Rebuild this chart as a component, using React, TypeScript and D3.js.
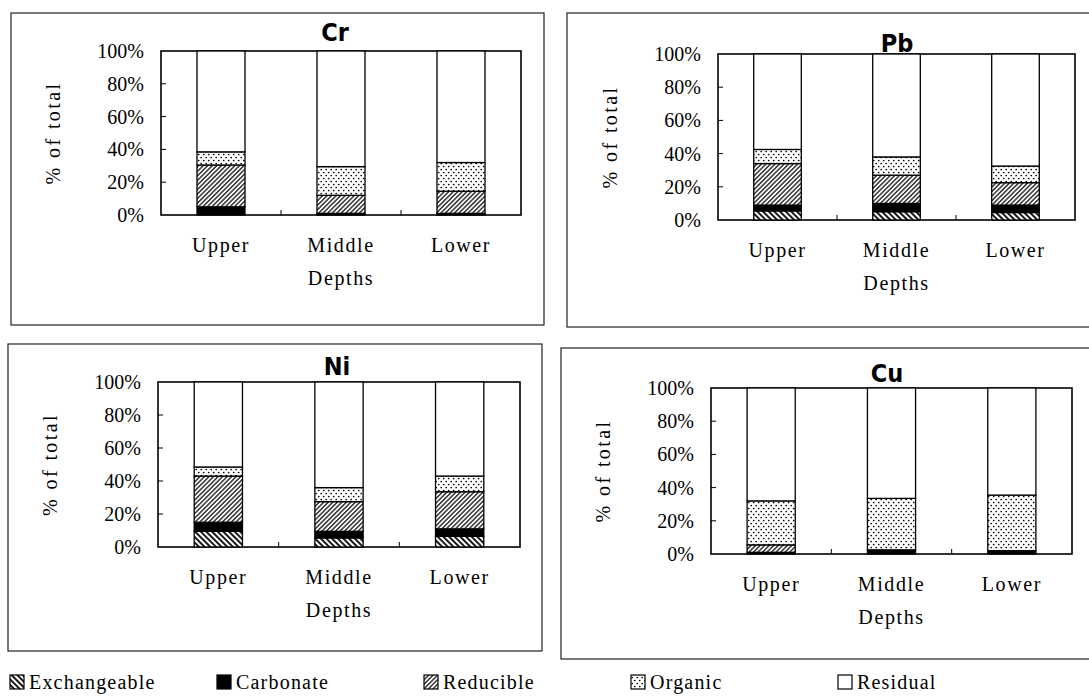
import React from 'react';
import * as d3 from 'd3';

const depths = ['Upper', 'Middle', 'Lower'];
const fractions = ['Exchangeable', 'Carbonate', 'Reducible', 'Organic', 'Residual'];
const yTicks = [0, 20, 40, 60, 80, 100];

// % of total for each depth: Exchangeable, Carbonate, Reducible, Organic (Residual is the rest)
const crValues = [[0, 5, 25.5, 8], [0, 1, 11, 17.5], [0, 1, 13.5, 17.5]];
const pbValues = [[5.5, 3.5, 25, 8.5], [5, 5, 17, 11], [4.5, 4.5, 13.5, 10]];
const niValues = [[9.5, 5.5, 28, 5.5], [5.5, 4, 18, 8.5], [6.5, 4.5, 22.5, 9.5]];
const cuValues = [[0, 1, 4.5, 26.5], [0, 2.5, 0, 31], [0, 2, 0, 33.5]];

const panels = [
  { title: 'Cr', values: crValues, frame: [11, 13, 533, 312], plot: [161, 51, 360, 164], titleX: 335, titleY: 41 },
  { title: 'Pb', values: pbValues, frame: [567, 13, 540, 314], plot: [718, 54, 357, 166], titleX: 897, titleY: 52 },
  { title: 'Ni', values: niValues, frame: [8, 344, 534, 307], plot: [158, 382, 362, 165], titleX: 337, titleY: 375 },
  { title: 'Cu', values: cuValues, frame: [561, 348, 540, 311], plot: [711, 388, 361, 166], titleX: 887, titleY: 382 },
];

const fills: Record<string, string> = {
  Exchangeable: 'url(#pat-exch)',
  Carbonate: '#000',
  Reducible: 'url(#pat-red)',
  Organic: 'url(#pat-org)',
  Residual: '#fff',
};

const serif = "'Liberation Serif', 'DejaVu Serif', serif";
const txt = { fontFamily: serif, fontSize: 20, letterSpacing: 1.6 };

function buildRows(values: number[][]) {
  return depths.map((depth, i) => {
    const row: any = { depth };
    fractions.slice(0, 4).forEach((f, j) => (row[f] = values[i][j]));
    row.Residual = 100 - d3.sum(values[i]);
    return row;
  });
}

function Panel({ p }: { p: any }) {
  const [fx, fy, fw, fh] = p.frame;
  const [px, py, pw, ph] = p.plot;
  const x = d3.scaleBand().domain(depths).range([px, px + pw]).paddingInner(0.6).paddingOuter(0.3);
  const y = d3.scaleLinear().domain([0, 100]).range([py + ph, py]);
  const series = d3.stack().keys(fractions)(buildRows(p.values));
  const step = x.step();
  const bw = x.bandwidth();

  return (
    <g>
      <rect x={fx} y={fy} width={fw} height={fh} fill="none" stroke="#222" strokeWidth={1.2} />
      <text x={p.titleX} y={p.titleY} textAnchor="middle" fontFamily="'DejaVu Sans Condensed', 'Liberation Sans Narrow', sans-serif" fontWeight="bold" fontSize={25}>{p.title}</text>
      <rect x={px} y={py} width={pw} height={ph} fill="none" stroke="#000" strokeWidth={1.6} />
      {series.map((s: any) => (
        <g key={s.key}>
          {s.map((d: any, i: number) => (
            d[1] - d[0] > 0 ? (
              <rect key={i} x={x(depths[i])} y={y(d[1])} width={bw} height={y(d[0]) - y(d[1])}
                fill={fills[s.key]} stroke="#000" strokeWidth={1.3} />
            ) : null
          ))}
        </g>
      ))}
      {yTicks.map(t => (
        <g key={t}>
          {t > 0 && t < 100 ? <line x1={px} x2={px + 5} y1={y(t)} y2={y(t)} stroke="#000" strokeWidth={1} /> : null}
          <text x={px - 17} y={y(t)} dy="0.35em" textAnchor="end" {...txt} letterSpacing={0}>{t}%</text>
        </g>
      ))}
      {depths.slice(0, -1).map(d => {
        const bx = (x(d) as number) + bw + (step - bw) / 2;
        return <line key={d} x1={bx} x2={bx} y1={py + ph} y2={py + ph - 5} stroke="#000" strokeWidth={1} />;
      })}
      {depths.map(d => (
        <text key={d} x={(x(d) as number) + bw / 2} y={py + ph + 37} textAnchor="middle" {...txt}>{d}</text>
      ))}
      <text x={(x('Middle') as number) + bw / 2} y={py + ph + 70} textAnchor="middle" {...txt}>Depths</text>
      <text transform={`translate(${px - 108}, ${py + ph / 2}) rotate(-90)`} textAnchor="middle" dy="0.35em" {...txt} letterSpacing={2.4}>% of total</text>
    </g>
  );
}

export default function App() {
  const legendX = d3.scalePoint().domain(fractions).range([10, 838]);
  return (
    <svg width={1089} height={696} style={{ position: 'absolute', left: 0, top: 0, background: '#fff' }}>
      <defs>
        <pattern id="pat-exch" patternUnits="userSpaceOnUse" width={4} height={4} patternTransform="rotate(-45)">
          <rect width={4} height={4} fill="#fff" />
          <line x1={2} y1={0} x2={2} y2={4} stroke="#000" strokeWidth={1.8} />
        </pattern>
        <pattern id="pat-red" patternUnits="userSpaceOnUse" width={3.2} height={3.2} patternTransform="rotate(45)">
          <rect width={3.2} height={3.2} fill="#fff" />
          <line x1={1.6} y1={0} x2={1.6} y2={3.2} stroke="#000" strokeWidth={1.2} />
        </pattern>
        <pattern id="pat-org" patternUnits="userSpaceOnUse" width={5} height={6}>
          <rect width={5} height={6} fill="#fff" />
          <circle cx={1.2} cy={1.5} r={0.85} fill="#000" />
          <circle cx={3.7} cy={4.5} r={0.85} fill="#000" />
        </pattern>
      </defs>
      <rect width={1089} height={696} fill="#fff" />
      {panels.map(p => <Panel key={p.title} p={p} />)}
      {fractions.map(f => (
        <g key={f} transform={`translate(${legendX(f)}, 682)`}>
          <rect x={0} y={-7} width={14} height={14} fill={fills[f]} stroke="#000" strokeWidth={1.2} />
          <text x={19} y={0} dy="0.35em" {...txt} letterSpacing={1.2}>{f}</text>
        </g>
      ))}
    </svg>
  );
}
